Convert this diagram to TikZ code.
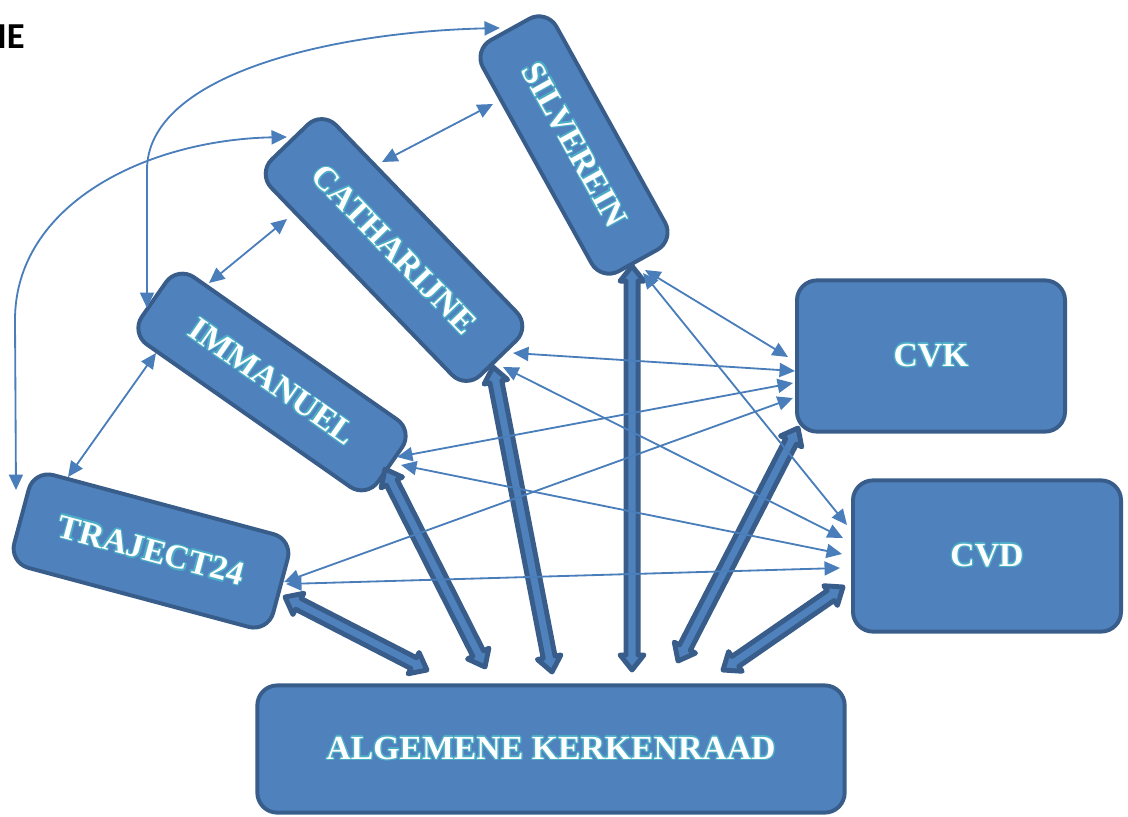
\documentclass[tikz,border=0pt]{standalone}
\usepackage{fontspec}
\usepackage[copies]{contour}
\usetikzlibrary{arrows.meta,calc}
\newfontfamily\labelfont{Liberation Serif}
\newfontfamily\headfont{Carlito}
\definecolor{boxfill}{HTML}{4F81BD}
\definecolor{boxline}{HTML}{385D8A}
\definecolor{linkblue}{HTML}{4A7EBB}
\definecolor{glow}{HTML}{4BACC6}
\contourlength{1pt}
\contournumber{8}
\tikzset{
    box/.style={draw=boxline, fill=boxfill, line width=2.8pt, rounded corners=0.5cm,
        text=white, font=\labelfont\bfseries\fontsize{24}{28}\selectfont},
    link/.style={draw=linkblue, line width=1.3pt, >={Triangle[length=11pt,width=10pt]}, <->},
    bigarrow/.style={draw=boxline, fill=boxfill, line width=3.5pt, line join=round}
}
% double block arrow between two coordinates
\newcommand\blockarrow[2]{%
    \draw[bigarrow] (#1)
        -- ($(#1)!10.7pt!(#2)!8.5pt!90:(#2)$) -- ($(#1)!10.7pt!(#2)!4.3pt!90:(#2)$)
        -- ($(#2)!10.7pt!(#1)!4.3pt!-90:(#1)$) -- ($(#2)!10.7pt!(#1)!8.5pt!-90:(#1)$)
        -- (#2)
        -- ($(#2)!10.7pt!(#1)!8.5pt!90:(#1)$) -- ($(#2)!10.7pt!(#1)!4.3pt!90:(#1)$)
        -- ($(#1)!10.7pt!(#2)!4.3pt!-90:(#2)$) -- ($(#1)!10.7pt!(#2)!8.5pt!-90:(#2)$)
        -- cycle;%
}
\begin{document}
\begin{tikzpicture}[x=0.025cm, y=-0.025cm]
    \useasboundingbox (0,0) rectangle (1128,816);
    \node[anchor=east, inner sep=0pt, font=\headfont\bfseries\fontsize{26}{30}\selectfont] (title) at (25,37) {IE};

    % boxes
    \node[box, minimum width=14.68cm, minimum height=3.18cm] (ak) at (551,749) {\contour{glow}{ALGEMENE KERKENRAAD}};
    \node[box, minimum width=6.7cm, minimum height=3.78cm] (cvk) at (931,356) {\contour{glow}{CVK}};
    \node[box, minimum width=6.7cm, minimum height=3.78cm] (cvd) at (987,556) {\contour{glow}{CVD}};
    \node[box, rotate=-61, minimum width=6.6cm, minimum height=2.1cm] (silv) at (574,145) {\contour{glow}{SILVEREIN}};
    \node[box, rotate=-46, minimum width=7.5cm, minimum height=2.25cm] (cath) at (394,250) {\contour{glow}{CATHARIJNE}};
    \node[box, rotate=-35, minimum width=7.2cm, minimum height=2.05cm] (imm) at (272,382) {\contour{glow}{IMMANUEL}};
    \node[box, rotate=-15, minimum width=6.7cm, minimum height=2.4cm] (traj) at (151,551) {\contour{glow}{TRAJECT24}};

    % connector ends
    \coordinate (silv-t) at (500,28);
    \coordinate (silv-l) at (493,104);
    \coordinate (silv-b1) at (645,270);
    \coordinate (silv-b2) at (643,273);
    \coordinate (silv-a) at (632,266);
    \coordinate (cath-l1) at (287,137);
    \coordinate (cath-l2) at (287,219);
    \coordinate (cath-t) at (382,162);
    \coordinate (cath-b1) at (513,353);
    \coordinate (cath-b2) at (503,367);
    \coordinate (cath-a) at (493,367);
    \coordinate (imm-t) at (147,308);
    \coordinate (imm-r) at (209,283);
    \coordinate (imm-l) at (156,353);
    \coordinate (imm-b1) at (397,457);
    \coordinate (imm-b2) at (401,465);
    \coordinate (imm-a) at (385,469);
    \coordinate (traj-t) at (16,490);
    \coordinate (traj-r) at (68,477);
    \coordinate (traj-b1) at (284,582);
    \coordinate (traj-b2) at (286,584);
    \coordinate (traj-a) at (285,597);
    \coordinate (cvk-1) at (788,357);
    \coordinate (cvk-2) at (795,371);
    \coordinate (cvk-3) at (793,383);
    \coordinate (cvk-4) at (793,398);
    \coordinate (cvk-a) at (798,428);
    \coordinate (cvd-1) at (847,525);
    \coordinate (cvd-2) at (843,538);
    \coordinate (cvd-3) at (842,554);
    \coordinate (cvd-4) at (840,568);
    \coordinate (cvd-a) at (843,587);
    \coordinate (ak-1) at (427,670);
    \coordinate (ak-2) at (485,667);
    \coordinate (ak-3) at (552,672);
    \coordinate (ak-4) at (632,670);
    \coordinate (ak-5) at (678,661);
    \coordinate (ak-6) at (723,670);

    % block arrows to the kerkenraad
    \blockarrow{traj-a}{ak-1}
    \blockarrow{imm-a}{ak-2}
    \blockarrow{cath-a}{ak-3}
    \blockarrow{silv-a}{ak-4}
    \blockarrow{cvk-a}{ak-5}
    \blockarrow{cvd-a}{ak-6}

    % thin links
    \draw[link] (imm-t) -- (147,170) .. controls (147,75) and (330,32) .. (silv-t);
    \draw[link] (traj-t) -- (15,320) .. controls (15,205) and (145,140) .. (cath-l1);
    \draw[link] (silv-l) -- (cath-t);
    \draw[link] (cath-l2) -- (imm-r);
    \draw[link] (imm-l) -- (traj-r);
    \draw[link] (silv-b1) -- (cvk-1);
    \draw[link] (silv-b2) -- (cvd-1);
    \draw[link] (cath-b1) -- (cvk-2);
    \draw[link] (cath-b2) -- (cvd-2);
    \draw[link] (imm-b1) -- (cvk-3);
    \draw[link] (imm-b2) -- (cvd-3);
    \draw[link] (traj-b1) -- (cvk-4);
    \draw[link] (traj-b2) -- (cvd-4);
\end{tikzpicture}
\end{document}
